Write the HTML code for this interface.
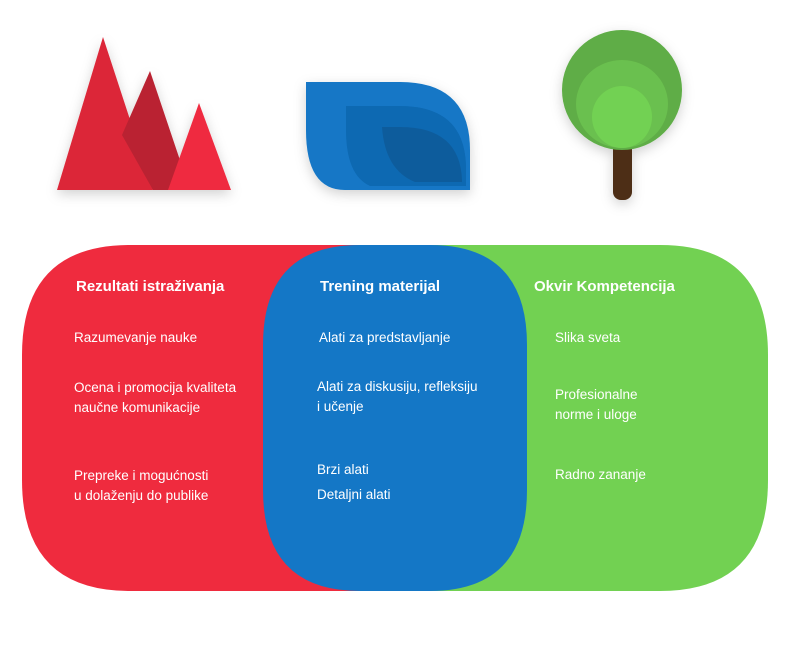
<!DOCTYPE html>
<html><head><meta charset="utf-8"><style>
body{margin:0;width:803px;height:648px;background:#fff;position:relative;overflow:hidden;font-family:"Liberation Sans",sans-serif;color:#fff}
.t{position:absolute;font-size:13.5px;line-height:20px;white-space:nowrap}
.h{position:absolute;font-size:15px;font-weight:bold;white-space:nowrap}
</style></head><body>
<svg width="803" height="648" style="position:absolute;left:0;top:0">
<defs><filter id="s" x="-30%" y="-30%" width="160%" height="160%"><feDropShadow dx="0" dy="4" stdDeviation="6" flood-opacity="0.18"/></filter></defs>
<g filter="url(#s)">
<polygon points="103,37 57,190 153,190" fill="#dc2839"/>
<polygon points="150,71 122,135 153,190 190,190" fill="#ba2230"/>
<polygon points="199,103 168,190 231,190" fill="#ef2b40"/>
</g>
<g filter="url(#s)">
<path d="M306,82 H400 Q470,82 470,150 V190 H345 Q306,190 306,130 Z" fill="#1477c6"/>
<path d="M346,106 H400 Q464,106 466,165 V186 H370 Q346,175 346,130 Z" fill="#1069b2"/>
<path d="M382,127 H400 Q460,127 462,180 V182 H415 Q385,170 382,127 Z" fill="#0d5c9c"/>
</g>
<g filter="url(#s)">
<rect x="613" y="140" width="19" height="60" rx="8" fill="#4e2f15"/>
<ellipse cx="622" cy="90" rx="60" ry="60" fill="#5fad46"/>
<ellipse cx="622" cy="104" rx="46" ry="44" fill="#6bc04f"/>
<ellipse cx="622" cy="117" rx="30" ry="31" fill="#72d152"/>
</g>
<path d="M130,245 H380 V591 H130 Q22,591 22,480 V355 Q22,245 130,245 Z" fill="#ef2b3e"/>
<path d="M420,245 H660 Q768,245 768,355 V480 Q768,591 660,591 H420 Z" fill="#72d152"/>
<path d="M360,245 H430 Q527,245 527,345 V490 Q527,591 430,591 H360 Q263,591 263,490 V345 Q263,245 360,245 Z" fill="#1477c6"/>
</svg>
<div class="h" style="left:76px;top:278px">Rezultati istraživanja</div>
<div class="h" style="left:320px;top:278px">Trening materijal</div>
<div class="h" style="left:534px;top:278px">Okvir Kompetencija</div>
<div class="t" style="left:74px;top:328px">Razumevanje nauke</div>
<div class="t" style="left:74px;top:378px">Ocena i promocija kvaliteta<br>naučne komunikacije</div>
<div class="t" style="left:74px;top:466px">Prepreke i mogućnosti<br>u dolaženju do publike</div>
<div class="t" style="left:319px;top:328px">Alati za predstavljanje</div>
<div class="t" style="left:317px;top:377px">Alati za diskusiju, refleksiju<br>i učenje</div>
<div class="t" style="left:317px;top:460px">Brzi alati</div>
<div class="t" style="left:317px;top:485px">Detaljni alati</div>
<div class="t" style="left:555px;top:328px">Slika sveta</div>
<div class="t" style="left:555px;top:385px">Profesionalne<br>norme i uloge</div>
<div class="t" style="left:555px;top:465px">Radno zananje</div>
</body></html>
